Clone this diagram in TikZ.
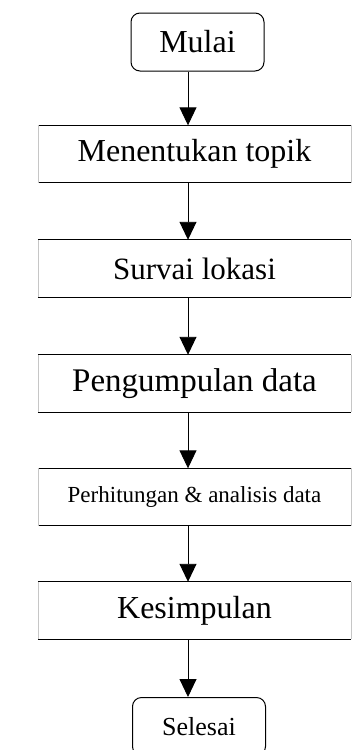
\documentclass[tikz,border=0pt]{standalone}
\usepackage{fontspec}
\setmainfont{Liberation Serif}
\usetikzlibrary{arrows.meta}
\begin{document}
\begin{tikzpicture}[x=1pt,y=-1pt,
  terminal/.style={draw, line width=1pt, rounded corners=9pt, minimum width=133pt, minimum height=58pt, inner sep=0pt},
  stepbox/.style={minimum width=313pt, minimum height=57pt, inner sep=0pt},
  arr/.style={line width=0.9pt, -{Triangle[length=18pt,width=17pt]}},
  topline/.style={line width=1.2pt},
  sideline/.style={line width=0.6pt, draw=gray!45}]
\useasboundingbox (0,0) rectangle (353,750);
\begin{scope}
\clip (0,0) rectangle (353,750);
\coordinate (ax) at (188,0);

\node[terminal, font=\fontsize{32}{36}\selectfont] (mulai) at (197.5,42) {Mulai};

\node[stepbox, font=\fontsize{32}{36}\selectfont] (b1) at (194.5,154) {Menentukan topik};
\node[stepbox, font=\fontsize{31}{36}\selectfont] (b2) at (194.5,268.5) {Survai lokasi};
\node[stepbox, font=\fontsize{33}{36}\selectfont] (b3) at (194.5,383.5) {Pengumpulan data};
\node[stepbox, font=\fontsize{23}{28}\selectfont] (b4) at (194.5,497) {Perhitungan \& analisis data};
\node[stepbox, font=\fontsize{32}{36}\selectfont] (b5) at (194.5,610.5) {Kesimpulan};

\node[terminal, font=\fontsize{26}{30}\selectfont] (selesai) at (199,726.5) {Selesai};

% step boxes: strong top and bottom rules, faint sides
\foreach \b in {b1,b2,b3,b4,b5} {
  \draw[topline] (\b.north west) -- (\b.north east);
  \draw[topline] (\b.south west) -- (\b.south east);
  \draw[sideline] (\b.north west) -- (\b.south west);
  \draw[sideline] (\b.north east) -- (\b.south east);
}

% flow connectors
\draw[arr] (mulai.south -| ax) -- (b1.north -| ax);
\draw[arr] (b1.south -| ax) -- (b2.north -| ax);
\draw[arr] (b2.south -| ax) -- (b3.north -| ax);
\draw[arr] (b3.south -| ax) -- (b4.north -| ax);
\draw[arr] (b4.south -| ax) -- (b5.north -| ax);
\draw[arr] (b5.south -| ax) -- (selesai.north -| ax);
\end{scope}
\end{tikzpicture}
\end{document}
